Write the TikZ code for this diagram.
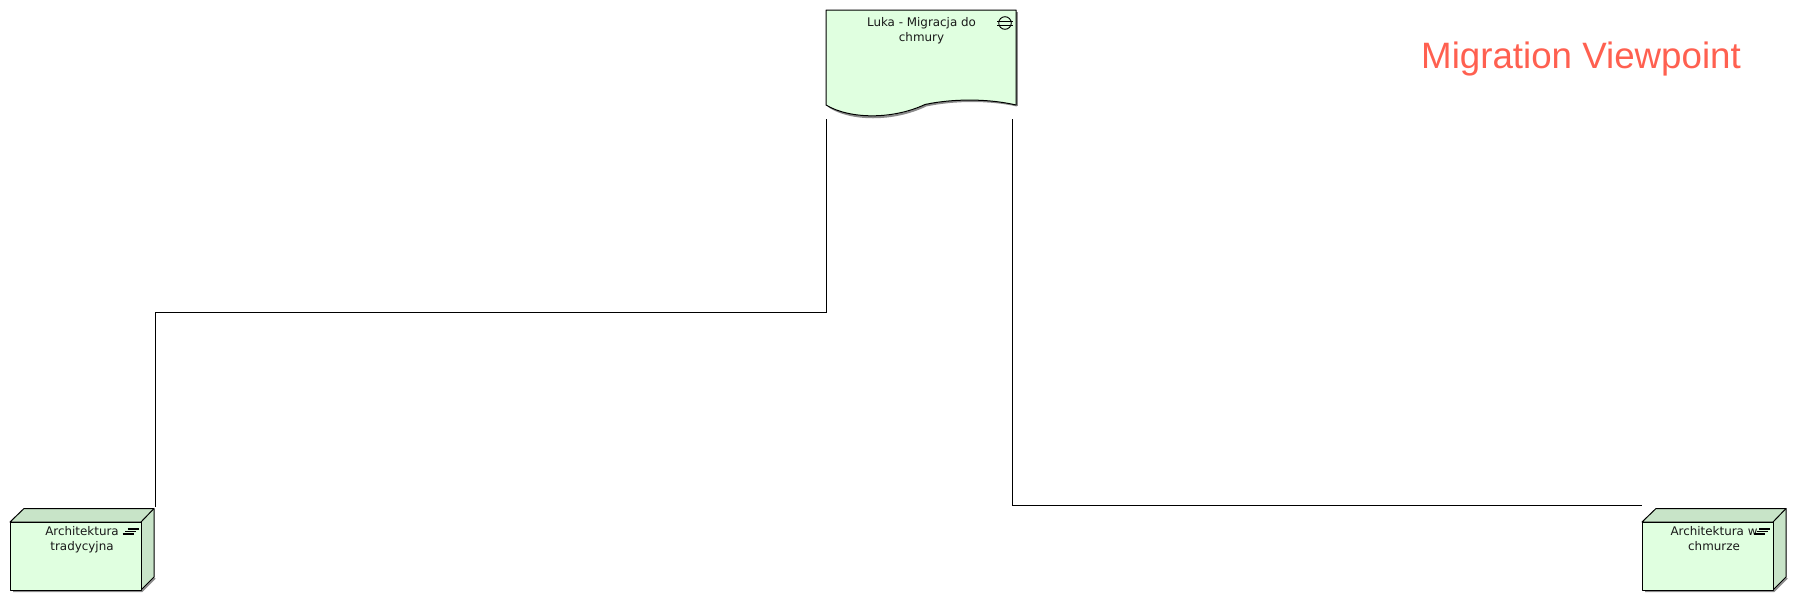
\documentclass[tikz,border=0pt]{standalone}
\usepackage{fontspec}
\setmainfont{DejaVu Sans}
\newfontfamily\titlefont{Liberation Sans}
\definecolor{elemfill}{HTML}{E0FFE0}
\definecolor{elemside}{HTML}{C8E4C8}
\definecolor{titlecol}{HTML}{FF6050}
\tikzset{
  outline/.style={draw=black,line width=1pt,line join=round},
  cshadow/.style={draw=black!45,line width=2pt},
  connector/.style={draw=black,line width=0.8pt},
  elabel/.style={inner sep=0pt,align=center,anchor=base,font=\fontsize{11.9}{15}\selectfont,text=black!90},
  titletext/.style={inner sep=0pt,anchor=base west,text=titlecol,font=\titlefont\fontsize{36.7}{40}\selectfont},
  face/.style={outline,fill=elemfill,inner sep=0pt,minimum width=131pt,minimum height=68pt,anchor=north west},
}
\newcommand{\boxnode}[3]{%
  % #1 name, #2 x, #3 y of the front face top-left corner
  \draw[cshadow] (#2+3,#3+69) -- (#2+132,#3+69) -- (#2+145,#3+56);
  \draw[outline,fill=elemside] (#2,#3) -- (#2+14,#3-13.5) -- (#2+144,#3-13.5) -- (#2+144,#3+55) -- (#2+131,#3+68) -- (#2+131,#3) -- cycle;
  \node[face] (#1) at (#2,#3) {};
  \draw[outline] (#2+131,#3) -- (#2+144,#3-13.5);
}
\newcommand{\stackicon}[2]{%
  % three skewed bars; #1,#2 = centre
  \draw[line width=1.9pt] (#1-3,#2-2.8) -- (#1+8,#2-2.8);
  \draw[line width=1.9pt] (#1-5.5,#2) -- (#1+5.5,#2);
  \draw[line width=1.9pt] (#1-8,#2+2.8) -- (#1+3,#2+2.8);
}
\begin{document}
\begin{tikzpicture}[x=1pt,y=-1pt]
\useasboundingbox (0,0) rectangle (1797,603);
% gap document
\draw[cshadow] (1017,12) -- (1017,106);
\draw[cshadow] (829,106.5) .. controls (850,120.5) and (893,121.5) .. (926,105.5) .. controls (955,99.5) and (990,99.5) .. (1017,105.5);
\draw[outline,fill=elemfill] (826,10) -- (1016,10) -- (1016,105) .. controls (988,98.5) and (953,98.5) .. (925,104.5) .. controls (892,120) and (849,119) .. (826,105) -- cycle;
\node[inner sep=0pt,minimum size=0pt] (gapdoc) at (921,60) {};
\node[elabel] (gaplabel) at (921.5,41) {Luka - Migracja do\\chmury};
\draw[line width=0.9pt] (1005,23) circle (6.3);
\draw[line width=0.9pt] (997,21) -- (1013,21);
\draw[line width=0.9pt] (997,25.5) -- (1013,25.5);
% plateaus
\boxnode{legacy}{10}{522}
\node[elabel] (legacylabel) at (82,550) {Architektura\\tradycyjna};
\stackicon{130.5}{531.5}
\boxnode{cloud}{1642}{522}
\node[elabel] (cloudlabel) at (1714,550) {Architektura w\\chmurze};
\stackicon{1762}{531.5}
% connector ends
\coordinate (gapleft) at (826,119);
\coordinate (gapright) at (1012.5,119);
\coordinate (legacyend) at (155,507);
\coordinate (cloudend) at (1642,505);
\draw[connector] (gapleft) -- (826,312) -- (155,312) -- (legacyend);
\draw[connector] (gapright) |- (cloudend);
\node[titletext] (title) at (1421,68) {Migration Viewpoint};
\end{tikzpicture}
\end{document}
